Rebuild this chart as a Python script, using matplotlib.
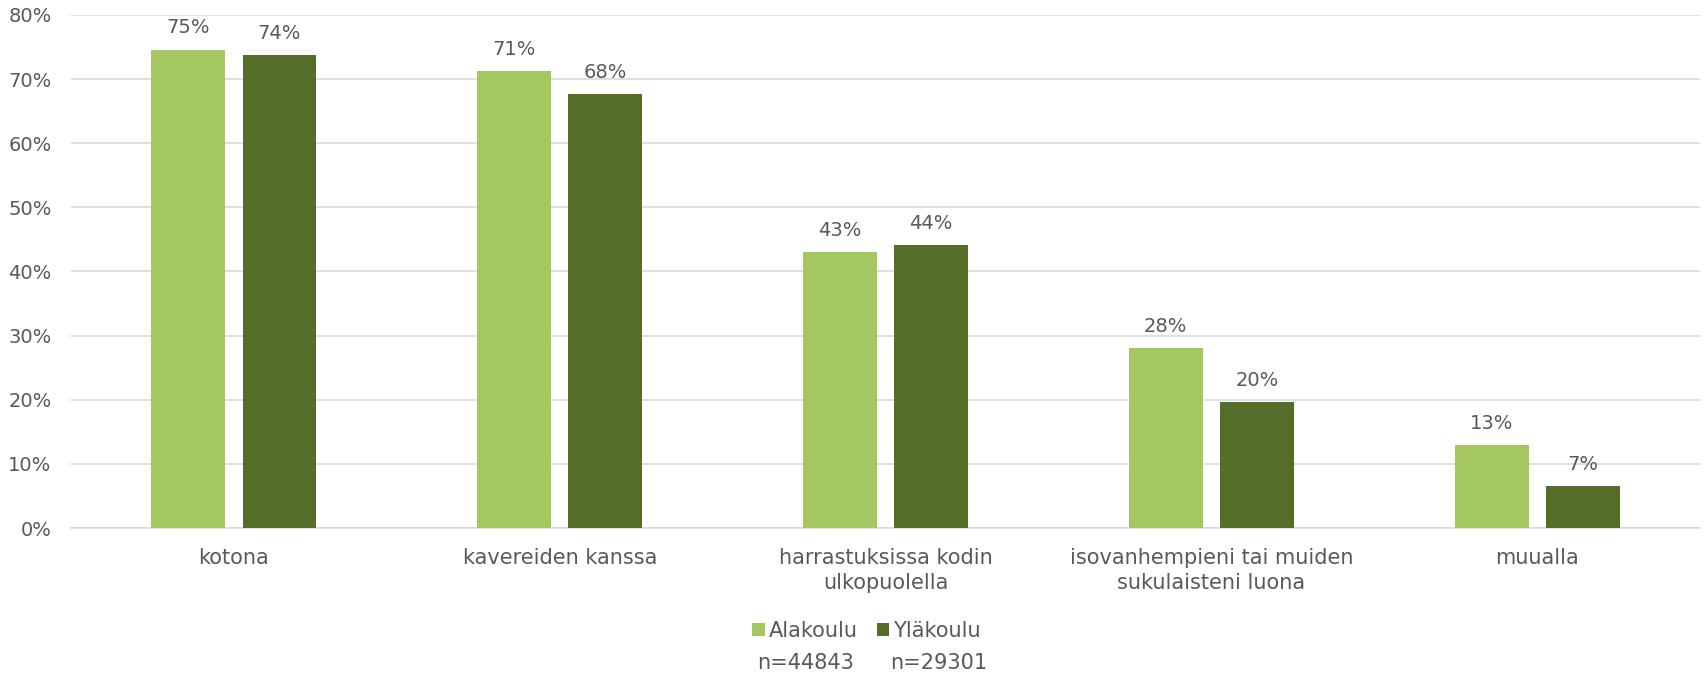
import matplotlib.pyplot as plt
import numpy as np

categories = ["kotona", "kavereiden kanssa", "harrastuksissa kodin\nulkopuolella",
              "isovanhempieni tai muiden\nsukulaisteni luona", "muualla"]
alakoulu = [74.6, 71.3, 43.0, 28.0, 12.9]
ylakoulu = [73.7, 67.7, 44.1, 19.7, 6.6]
series_names = ["Alakoulu", "Yläkoulu"]
n_values = ["n=44843", "n=29301"]
colors = ["#A4C75F", "#546E28"]
text_color = "#595959"

plt.rcParams["font.family"] = ["DejaVu Sans"]

fig = plt.figure(figsize=(17.06, 6.77), dpi=100)
ax = fig.add_axes([0.0416, 0.22, 0.955, 0.758])

x = np.arange(len(categories))
w = 0.227
off = 0.14
b1 = ax.bar(x - off, alakoulu, w, color=colors[0], label=series_names[0], zorder=3)
b2 = ax.bar(x + off, ylakoulu, w, color=colors[1], label=series_names[1], zorder=3)

# value labels above bars
for bars, vals in [(b1, alakoulu), (b2, ylakoulu)]:
    for b, v in zip(bars, vals):
        ax.text(b.get_x() + b.get_width() / 2, v + 1.9, f"{v:.0f}%",
                ha="center", va="bottom", fontsize=14, color=text_color)

ax.set_xlim(-0.5, len(categories) - 0.5)
ax.set_ylim(0, 80)
ax.set_yticks(np.arange(0, 81, 10))
ax.set_yticklabels([f"{t}%" for t in range(0, 81, 10)])
ax.set_xticks(x)
ax.set_xticklabels(categories, linespacing=1.35)
ax.tick_params(axis="both", length=0, colors=text_color)
ax.tick_params(axis="x", pad=14, labelsize=15)
ax.tick_params(axis="y", pad=14, labelsize=14)
ax.grid(axis="y", color="#d9d9d9", linewidth=1.2, zorder=0)
for s in ["top", "right", "left"]:
    ax.spines[s].set_visible(False)
ax.spines["bottom"].set_color("#d9d9d9")
ax.spines["bottom"].set_linewidth(1.2)

leg = fig.legend(loc="center", bbox_to_anchor=(0.508, 0.068), ncol=2, frameon=False,
                 fontsize=15, handlelength=0.6, handleheight=0.6, handletextpad=0.2,
                 columnspacing=0.9, labelcolor=text_color)
fig.text(0.472, 0.02, n_values[0], ha="center", va="center", fontsize=15, color=text_color)
fig.text(0.550, 0.02, n_values[1], ha="center", va="center", fontsize=15, color=text_color)

fig.savefig("out.png", dpi=100)
